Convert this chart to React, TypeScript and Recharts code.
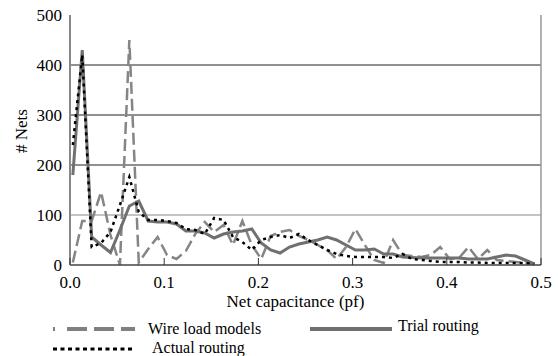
import React from "react";
import { LineChart, Line, XAxis, YAxis, ReferenceLine } from "recharts";

// net capacitance bins (pf)
const capacitance = [
  0.003, 0.013, 0.023, 0.033, 0.043, 0.053, 0.063, 0.073, 0.083, 0.093,
  0.103, 0.113, 0.123, 0.133, 0.143, 0.153, 0.163, 0.173, 0.183, 0.193,
  0.203, 0.213, 0.223, 0.233, 0.243, 0.253, 0.263, 0.273, 0.283, 0.293,
  0.303, 0.313, 0.323, 0.333, 0.343, 0.353, 0.363, 0.373, 0.383, 0.393,
  0.403, 0.413, 0.423, 0.433, 0.443, 0.453, 0.463, 0.473, 0.483, 0.493,
];

const wireLoadModels = [
  5, 88, 88, 146, 60, 0, 450, 5, 32, 56,
  20, 12, 28, 62, 86, 66, 80, 40, 88, 40,
  12, 58, 66, 70, 58, 50, 40, 30, 12, 36,
  72, 40, 10, 4, 50, 20, 18, 16, 20, 36,
  12, 14, 36, 12, 30, 10, 8, 6, 4, 2,
];

const trialRouting = [
  180, 430, 56, 40, 25, 70, 118, 128, 88, 86,
  86, 82, 68, 68, 64, 54, 62, 66, 68, 72,
  44, 30, 24, 36, 42, 46, 50, 56, 50, 40,
  30, 30, 32, 22, 22, 16, 15, 14, 14, 14,
  14, 14, 12, 12, 12, 16, 20, 18, 10, 2,
];

const actualRouting = [
  240, 420, 36, 44, 66, 120, 176, 106, 90, 90,
  88, 84, 72, 70, 62, 94, 90, 56, 46, 30,
  50, 56, 60, 54, 62, 50, 40, 30, 22, 18,
  16, 16, 16, 16, 14, 22, 12, 10, 8, 6,
  6, 6, 5, 5, 4, 4, 4, 4, 4, 2,
];

const xTicks = [0, 0.1, 0.2, 0.3, 0.4, 0.5];
const yTicks = [0, 100, 200, 300, 400, 500];
const gridLevels = [100, 200, 300, 400];

const data = capacitance.map((c, i) => ({
  cap: c,
  wire: wireLoadModels[i],
  trial: trialRouting[i],
  actual: actualRouting[i],
}));

const FONT = "'Times New Roman', Times, 'Liberation Serif', 'DejaVu Serif', serif";
const textStyle = { fontFamily: FONT, fontSize: 17 };
const legendStyle = { fontFamily: FONT, fontSize: 16 };

function XTick({ x, y, payload }: any) {
  return (
    <g>
      <line x1={x} x2={x} y1={y} y2={y - 7} stroke="#333" />
      <text x={x} y={y + 23} textAnchor="middle" fill="#000" fontFamily={FONT} style={textStyle}>
        {payload.value.toFixed(1)}
      </text>
    </g>
  );
}

function YTick({ x, y, payload }: any) {
  return (
    <text x={x} y={y + 6} textAnchor="end" fill="#000" fontFamily={FONT} style={textStyle}>
      {payload.value}
    </text>
  );
}

function YLabel({ viewBox }: any) {
  const cx = viewBox.x + 17;
  const cy = viewBox.y + viewBox.height / 2 - 9;
  return (
    <text
      x={cx}
      y={cy}
      transform={`rotate(-90 ${cx} ${cy})`}
      textAnchor="middle"
      fill="#000"
      fontFamily={FONT}
      style={textStyle}
    >
      # Nets
    </text>
  );
}

function XLabel({ viewBox }: any) {
  return (
    <text
      x={viewBox.x + viewBox.width / 2 - 10}
      y={viewBox.y + 42}
      textAnchor="middle"
      fill="#000"
      fontFamily={FONT}
      style={textStyle}
    >
      Net capacitance (pf)
    </text>
  );
}

function Legend() {
  return (
    <svg
      width={558}
      height={356}
      style={{ position: "absolute", left: 0, top: 0, pointerEvents: "none", fontFamily: FONT }}
    >
      <line x1={53} x2={135} y1={329} y2={329} stroke="#808080" strokeWidth={4} strokeDasharray="2 12 20 7 20 7 16" />
      <text x={148} y={334} fill="#000" fontFamily={FONT} style={legendStyle}>
        Wire load models
      </text>
      <line x1={310} x2={392} y1={329} y2={329} stroke="#707070" strokeWidth={4} />
      <text x={398} y={331} fill="#000" fontFamily={FONT} style={legendStyle}>
        Trial routing
      </text>
      <line x1={53} x2={135} y1={349} y2={349} stroke="#000" strokeWidth={3} strokeDasharray="4 3.5" />
      <text x={152} y={353} fill="#000" fontFamily={FONT} style={legendStyle}>
        Actual routing
      </text>
    </svg>
  );
}

export default function App() {
  return (
    <div
      style={{ position: "absolute", left: 0, top: 0, width: 558, height: 356, background: "#fff", fontFamily: FONT }}
    >
      <LineChart width={558} height={356} data={data} margin={{ top: 15, right: 17, left: 10, bottom: 51 }}>
        <XAxis
          dataKey="cap"
          type="number"
          domain={[0, 0.5]}
          ticks={xTicks}
          tick={<XTick />}
          tickLine={false}
          tickSize={0}
          tickMargin={0}
          height={40}
          stroke="#444"
          strokeWidth={1.5}
          label={<XLabel />}
        />
        <YAxis
          type="number"
          domain={[0, 500]}
          ticks={yTicks}
          tickLine={false}
          width={60}
          stroke="#888"
          strokeWidth={2}
          tick={<YTick />}
          label={<YLabel />}
        />
        {gridLevels.map((lv) => (
          <ReferenceLine key={lv} y={lv} stroke={lv === 100 ? "#888" : "#222"} strokeWidth={1} />
        ))}
        <ReferenceLine x={0.5} stroke="#999" strokeWidth={1.5} />
        <Line
          dataKey="wire"
          stroke="#858585"
          strokeWidth={2.5}
          strokeDasharray="12 5"
          dot={false}
          isAnimationActive={false}
        />
        <Line dataKey="trial" stroke="#707070" strokeWidth={3} dot={false} isAnimationActive={false} />
        <Line
          dataKey="actual"
          stroke="#000"
          strokeWidth={2.5}
          strokeDasharray="3 4"
          dot={false}
          isAnimationActive={false}
        />
      </LineChart>
      <Legend />
    </div>
  );
}
